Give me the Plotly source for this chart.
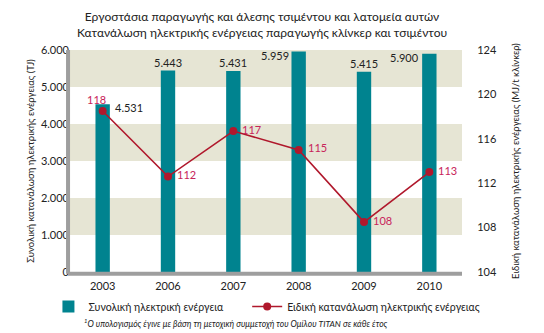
import plotly.graph_objects as go

years = ["2003", "2006", "2007", "2008", "2009", "2010"]
total_energy = [4531, 5443, 5431, 5959, 5415, 5900]
specific_values = [118.5, 112.6, 116.7, 115.0, 108.5, 113.0]
specific_labels = ["118", "112", "117", "115", "108", "113"]
left_ticks = [0, 1000, 2000, 3000, 4000, 5000, 6000]
right_ticks = [104, 108, 112, 116, 120, 124]
bands = [(1000, 2000), (3000, 4000), (5000, 6000)]

TEAL = "#00838F"
BEIGE = "#E6E5D4"
RED = "#B0182C"
LBL = "#C8245A"
GRAY = "#9E9E9E"
FONT = "Lato"

fig = go.Figure()
fig.add_trace(go.Bar(
    x=years, y=total_energy, name="Συνολική ηλεκτρική ενέργεια",
    marker=dict(color=TEAL, line=dict(width=0)), width=0.22, legend="legend",
))
fig.add_trace(go.Scatter(
    x=years, y=specific_values, yaxis="y2", mode="lines+markers",
    name="Ειδική κατανάλωση ηλεκτρικής ενέργειας", legend="legend2",
    line=dict(color=RED, width=1.6), marker=dict(color=RED, size=8),
))

shapes = []
for lo, hi in bands:
    shapes.append(dict(type="rect", xref="paper", yref="y", x0=0, x1=1, y0=lo, y1=hi,
                       fillcolor=BEIGE, line=dict(width=0), layer="below"))

ann = []
# bar value labels (x given as category index)
for i, v in enumerate(total_energy):
    fmt = f"{v:,}".replace(",", ".")
    if i == 0:
        ann.append(dict(x=i, y=v, xref="x", yref="y", text=fmt, showarrow=False,
                        xanchor="left", yanchor="middle", xshift=10, yshift=-3,
                        font=dict(family=FONT, size=11, color="#222")))
    elif i in (3, 5):
        ann.append(dict(x=i, y=v, xref="x", yref="y", text=fmt, showarrow=False,
                        xanchor="right", yanchor="middle", xshift=-8, yshift=-4,
                        font=dict(family=FONT, size=11, color="#222")))
    else:
        ann.append(dict(x=i, y=v, xref="x", yref="y", text=fmt, showarrow=False,
                        xanchor="center", yanchor="bottom", yshift=0,
                        font=dict(family=FONT, size=11, color="#222")))
# line value labels
for i, (v, t) in enumerate(zip(specific_values, specific_labels)):
    if i == 0:
        ann.append(dict(x=i, y=v, xref="x", yref="y2", text=t, showarrow=False,
                        xanchor="center", yanchor="bottom", xshift=-6, yshift=3,
                        font=dict(family=FONT, size=11, color=LBL)))
    else:
        ann.append(dict(x=i, y=v, xref="x", yref="y2", text=t, showarrow=False,
                        xanchor="left", yanchor="middle", xshift=7, yshift=2,
                        font=dict(family=FONT, size=11, color=LBL)))

ann.append(dict(x=(262 - 70) / 392, y=(272 - 7) / 222, xref="paper", yref="paper",
                yanchor="top", xanchor="center", showarrow=False, align="center",
                text="Εργοστάσια παραγωγής και άλεσης τσιμέντου και λατομεία αυτών<br>Κατανάλωση ηλεκτρικής ενέργειας παραγωγής κλίνκερ και τσιμέντου",
                font=dict(family=FONT, size=12, color="#222")))
ann.append(dict(x=(82 - 70) / 392, y=(272 - 323) / 222, xref="paper", yref="paper",
                xanchor="left", yanchor="middle", showarrow=False,
                text="<i><sup>1</sup>Ο υπολογισμός έγινε με βάση τη μετοχική συμμετοχή του Ομίλου TITAN σε κάθε έτος</i>",
                font=dict(family=FONT, size=8.5, color="#222")))

legend_common = dict(orientation="h", y=-0.09, xanchor="left", yanchor="top",
                     font=dict(family=FONT, size=10.5, color="#222"),
                     itemwidth=30, bgcolor="rgba(0,0,0,0)")

fig.update_layout(
    width=544, height=333,
    margin=dict(l=70, r=82, t=50, b=61, autoexpand=False),
    paper_bgcolor="white", plot_bgcolor="white",
    separators=",.",
    font=dict(family=FONT, size=11, color="#222"),
    showlegend=True,
    legend=dict(x=-0.055, **legend_common),
    legend2=dict(x=0.452, **legend_common),
    shapes=shapes,
    annotations=ann,
    xaxis=dict(type="category", range=[-0.5, 5.5], showgrid=False, showline=False, ticks="",
               ticklabelstandoff=6,
               tickfont=dict(family=FONT, size=11, color="#222")),
    yaxis=dict(range=[0, 6000], tickvals=left_ticks, tickformat=",d", showgrid=False,
               zeroline=False, showline=False, ticks="",
               title=dict(text="Συνολική κατανάλωση ηλεκτρικής ενέργειας (TJ)",
                          font=dict(family=FONT, size=9.5, color="#222"), standoff=4),
               tickfont=dict(family=FONT, size=11, color="#222")),
    yaxis2=dict(range=[104, 124], tickvals=right_ticks, overlaying="y", side="right",
                showgrid=False, zeroline=False, showline=False, ticks="outside",
                ticklen=12, tickcolor="rgba(0,0,0,0)",
                title=dict(text="Ειδική κατανάλωση ηλεκτρικής ενέργειας (MJ/t κλίνκερ)",
                           font=dict(family=FONT, size=9.5, color="#222"), standoff=16),
                tickfont=dict(family=FONT, size=11, color="#222")),
)
# gray axis frame lines (left and bottom)
fig.add_shape(type="line", xref="paper", yref="paper", x0=-0.005, x1=-0.005, y0=-0.008, y1=1,
              line=dict(color=GRAY, width=4))
fig.add_shape(type="line", xref="paper", yref="paper", x0=-0.005, x1=1, y0=-0.008, y1=-0.008,
              line=dict(color=GRAY, width=4))

fig.write_html("out.html")
